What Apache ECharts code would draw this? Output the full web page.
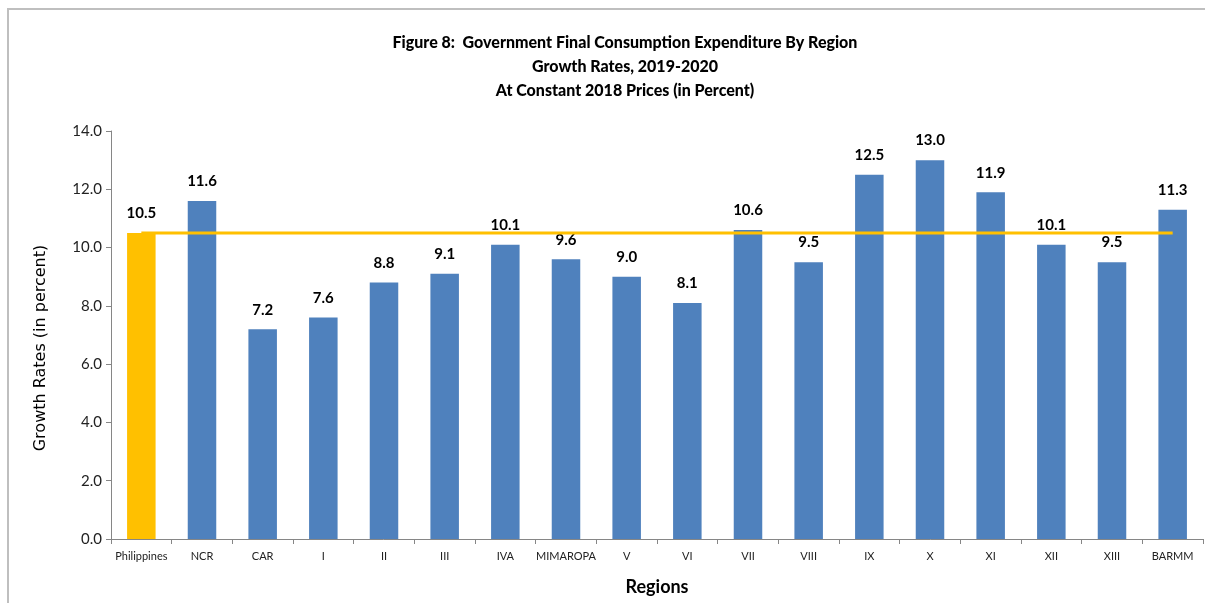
<!DOCTYPE html>
<html>
<head>
<meta charset="utf-8">
<script src="https://cdn.jsdelivr.net/npm/echarts@6/dist/echarts.min.js"></script>
<style>
html,body{margin:0;padding:0;background:#fff;}
#chart{width:1205px;height:603px;}
</style>
</head>
<body>
<div id="chart"></div>
<script>
const categories = ['Philippines','NCR','CAR','I','II','III','IVA','MIMAROPA','V','VI','VII','VIII','IX','X','XI','XII','XIII','BARMM'];
const growthRates = [10.5,11.6,7.2,7.6,8.8,9.1,10.1,9.6,9.0,8.1,10.6,9.5,12.5,13.0,11.9,10.1,9.5,11.3];
const philippinesLevel = 10.5;
const yTicks = [0,2,4,6,8,10,12,14];
const titleLines = ['Figure 8:  Government Final Consumption Expenditure By Region','Growth Rates, 2019-2020','At Constant 2018 Prices (in Percent)'];

const FONT = 'Lato, "Open Sans", sans-serif';
const chart = echarts.init(document.getElementById('chart'), null, {renderer:'canvas'});

const barData = growthRates.map((v,i)=>({
  value: v,
  itemStyle: {color: i === 0 ? '#FFC000' : '#4F81BD'}
}));
const lineData = categories.map(()=>philippinesLevel);

chart.setOption({
  animation:false,
  backgroundColor:'#fff',
  graphic:[{
    type:'rect', shape:{x:8,y:9,width:1300,height:700},
    style:{fill:'none',stroke:'#BFBFBF',lineWidth:2}, silent:true, z:-1
  }],
  title:{
    text: titleLines.join('\n'),
    left: 620, top: 26, textAlign:'center',
    textStyle:{fontFamily:FONT,fontSize:16,fontWeight:900,color:'#000',lineHeight:24}
  },
  grid:{left:111,right:2,top:131,bottom:64,containLabel:false},
  xAxis:{
    type:'category', data:categories,
    name:'Regions', nameLocation:'middle', nameGap:39,
    nameTextStyle:{fontFamily:FONT,fontSize:18,fontWeight:'bold',color:'#000'},
    axisLine:{lineStyle:{color:'#868686',width:1}},
    axisTick:{show:true,alignWithLabel:false,length:5,inside:false,lineStyle:{color:'#868686'}},
    axisLabel:{fontFamily:FONT,fontSize:11,color:'#222',margin:12,interval:0}
  },
  yAxis:{
    type:'value', min:yTicks[0], max:yTicks[yTicks.length-1], interval:2,
    name:'Growth Rates (in percent)', nameLocation:'middle', nameGap:62, nameRotate:90,
    nameTextStyle:{fontFamily:'"DejaVu Sans", "Open Sans", sans-serif',fontSize:16,color:'#000',padding:[0,26,0,0]},
    axisLine:{show:true,lineStyle:{color:'#868686',width:1}},
    axisTick:{show:true,length:5,lineStyle:{color:'#868686'}},
    splitLine:{show:false},
    axisLabel:{fontFamily:FONT,fontSize:15,color:'#222',margin:9,formatter:v=>v.toFixed(1)}
  },
  series:[
    {
      type:'bar', data:barData, barWidth:'47%',
      label:{show:true,position:'top',distance:12,fontFamily:FONT,fontSize:15,fontWeight:'bold',color:'#000',
        formatter:p=>p.value.toFixed(1)},
      z:2
    },
    {
      type:'line', data:lineData, symbol:'none',
      lineStyle:{color:'#FFC000',width:3}, z:3, silent:true
    }
  ]
});
</script>
</body>
</html>
